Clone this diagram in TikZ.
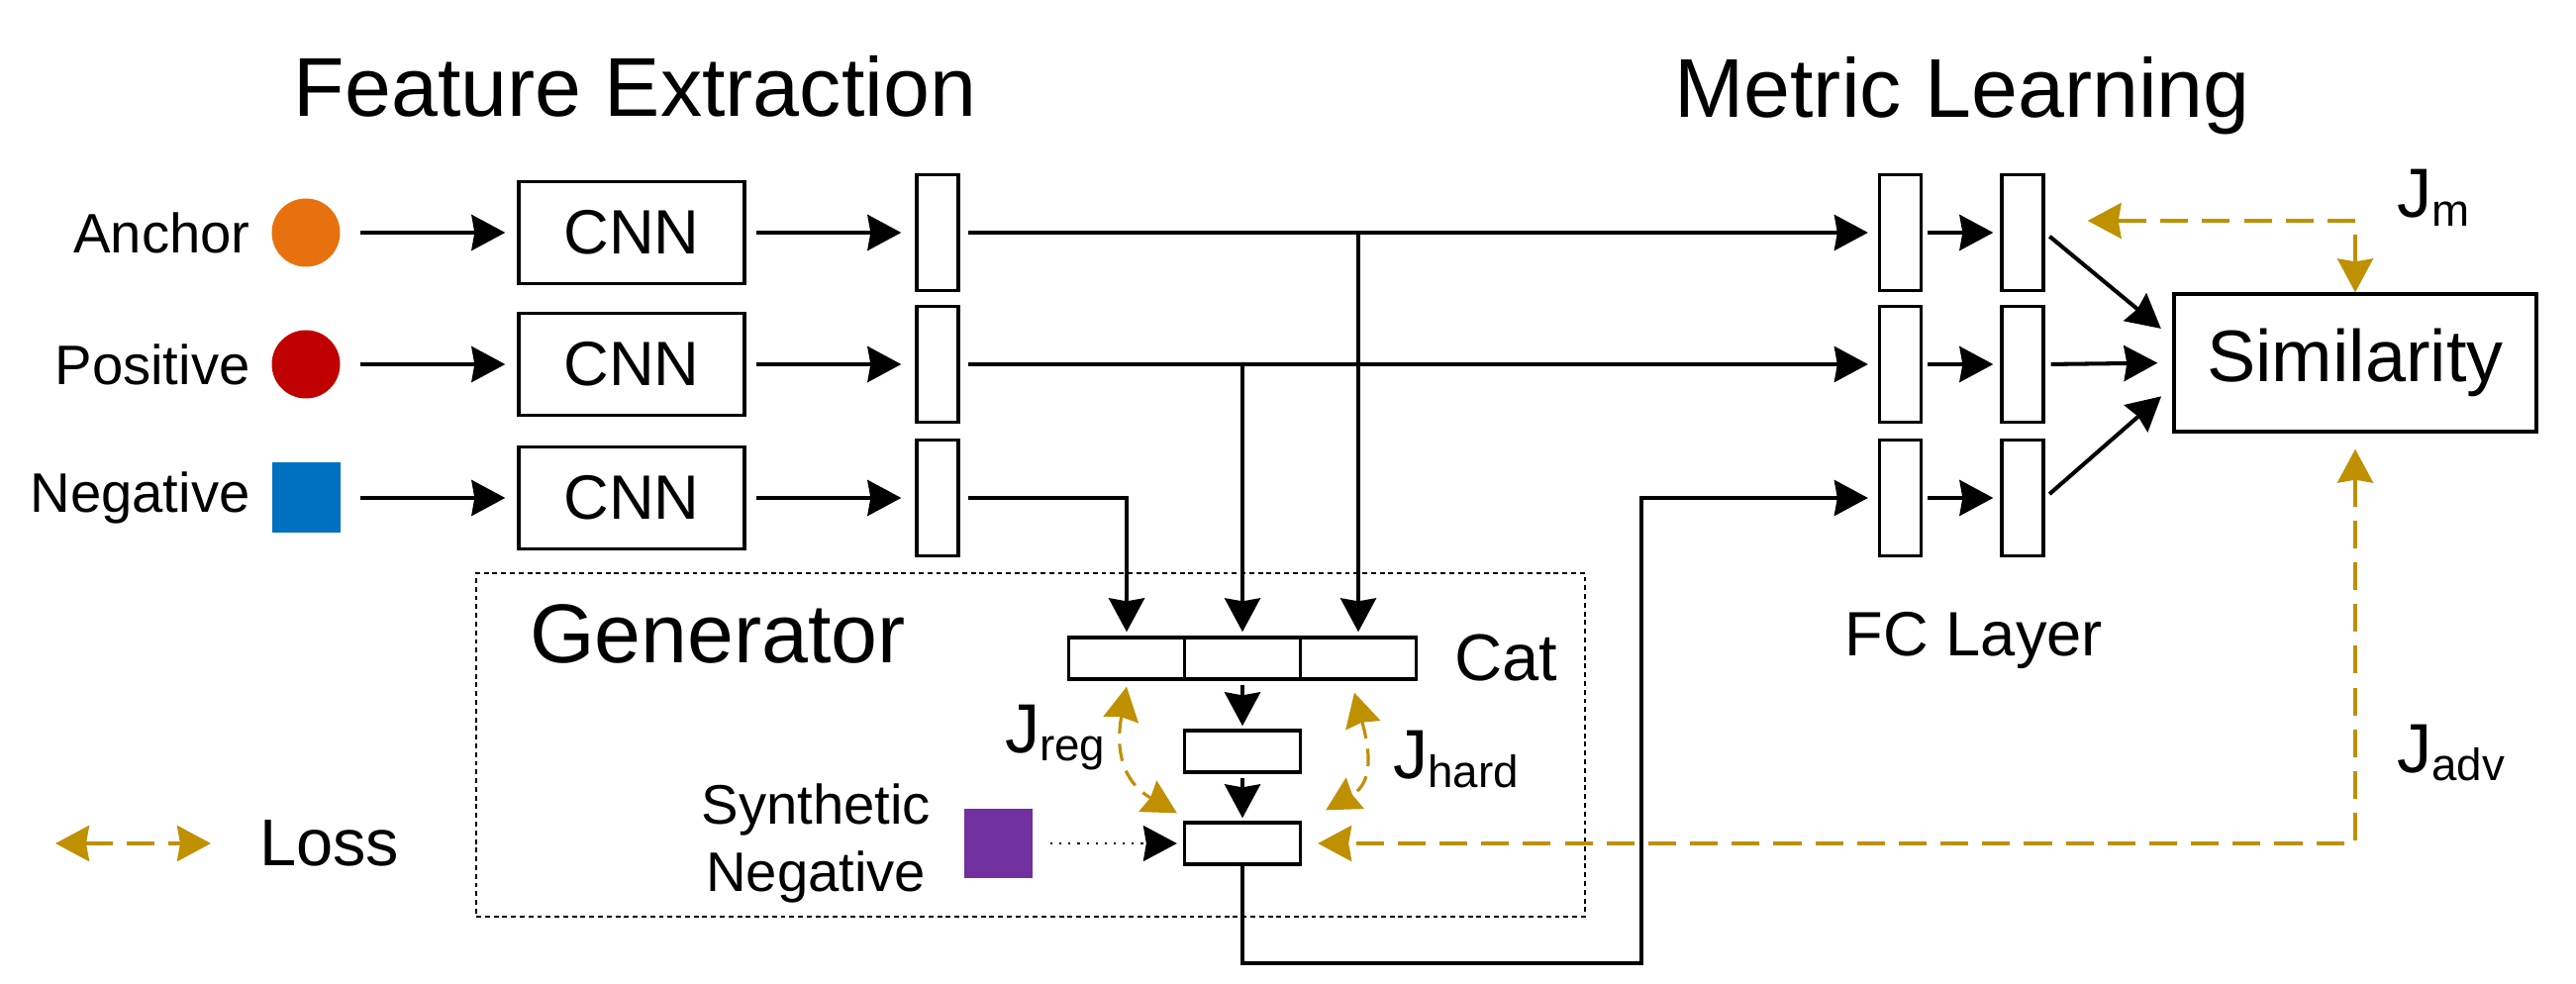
\documentclass[tikz,border=0pt]{standalone}
\usepackage{fontspec}
\setmainfont{Liberation Sans}
\usetikzlibrary{positioning,arrows.meta,calc}
\definecolor{anc}{HTML}{E8710F}
\definecolor{posc}{HTML}{C00000}
\definecolor{negc}{HTML}{0070C0}
\definecolor{synth}{HTML}{7030A0}
\definecolor{lossgold}{HTML}{BF9000}
\newcommand{\jsub}[1]{J\raisebox{-2.5pt}{\fontsize{13}{15}\selectfont #1}}

\begin{document}
\begin{tikzpicture}[
  font=\fontsize{16}{19}\selectfont, line width=1.15pt,
  >={Stealth[length=3.4mm,width=3.6mm,inset=0.3mm]},
  title/.style={font=\fontsize{24}{28}\selectfont},
  lab/.style={inner sep=0pt},
  cnnbox/.style={draw, line width=0.95pt, minimum width=22.8mm, minimum height=10.3mm,
                 inner sep=0pt, font=\fontsize{18}{21}\selectfont},
  vec/.style={draw, line width=0.95pt, minimum width=4.2mm, minimum height=11.7mm, inner sep=0pt},
  cell/.style={draw, line width=0.95pt, minimum width=11.7mm, minimum height=4.2mm, inner sep=0pt},
  flow/.style={->, shorten <=1mm, shorten >=1.2mm},
  lossln/.style={lossgold, line width=1.1pt, dash pattern=on 8pt off 4pt, <->},
  jlab/.style={font=\fontsize{20}{22}\selectfont, anchor=base west, inner sep=0pt}]

\useasboundingbox (0,0) rectangle (26.02,-9.94);

\node [title, anchor=base] at (6.415,-1.18) {Feature Extraction};
\node [title, anchor=base] at (19.82,-1.19) {Metric Learning};

\node (in1) [circle, fill=anc, minimum size=6.9mm, inner sep=0pt] at (3.09,-2.35) {};
\node (in2) [circle, fill=posc, minimum size=6.9mm, inner sep=0pt] at (3.09,-3.68) {};
\node (in3) [fill=negc, minimum width=6.9mm, minimum height=7.1mm, inner sep=0pt] at (3.09,-5.03) {};
\node [lab, left=1.8mm of in1] {Anchor};
\node [lab, left=1.8mm of in2] {Positive};
\node [lab, left=1.8mm of in3] {Negative};

\foreach \r/\y in {1/-2.35, 2/-3.68, 3/-5.03} {
  \node (cnn\r) [cnnbox] at (6.38,\y) {CNN};
  \node (fe\r) [vec] at (9.47,\y) {};
  \node (fca\r) [vec] at (19.195,\y) {};
  \node (fcb\r) [vec] at (20.43,\y) {};
  \draw[flow, shorten <=1.8mm] (in\r) -- (cnn\r);
  \draw[flow, shorten >=1.4mm] (cnn\r) -- (fe\r);
  \draw[flow, shorten <=0.5mm, shorten >=0.7mm] (fca\r) -- (fcb\r);
}
\node [anchor=base, font=\fontsize{18}{21}\selectfont] at (19.94,-6.63) {FC Layer};

\node (sim) [cnnbox, minimum width=36.6mm, minimum height=13.9mm,
  font=\fontsize{21}{24}\selectfont] at (23.79,-3.665) {Similarity};

\node (gen) [draw, line width=0.7pt, dash pattern=on 1.4pt off 1.1pt, minimum width=112mm,
  minimum height=34.7mm, inner sep=0pt] at (10.41,-7.525) {};
\node [title, anchor=base west, inner sep=0pt] at (5.33,-6.70) {Generator};

\foreach \i/\x in {1/11.38, 2/12.55, 3/13.72} \node (cat\i) [cell] at (\x,-6.65) {};
\node [lab, right=3.5mm of cat3, font=\fontsize{19}{22}\selectfont] {Cat};
\node (mid) [cell] at (12.55,-7.59) {};
\node (bot) [cell] at (12.55,-8.52) {};

\node (syn) [fill=synth, minimum width=6.9mm, minimum height=7mm, inner sep=0pt] at (10.085,-8.52) {};
\node [lab, left=3mm of syn, align=center, font=\fontsize{16}{19.3}\selectfont] {Synthetic\\Negative};

\draw[flow, shorten <=0.8mm, shorten >=1mm] (fe1) -- (fca1);
\draw[flow, shorten <=0.8mm, shorten >=1mm] (fe2) -- (fca2);
\draw[->, line width=1pt, shorten >=0.4mm] (fe1.east -| cat3.north) -- (cat3.north);
\draw[->, line width=1pt, shorten >=0.4mm] (fe2.east -| cat2.north) -- (cat2.north);
\draw[flow, shorten <=0.8mm, shorten >=0.4mm] (fe3) -| (cat1.north);
\draw[flow, shorten <=0.4mm, shorten >=0.3mm] (cat2) -- (mid);
\draw[flow, shorten <=0.4mm, shorten >=0.3mm] (mid) -- (bot);
\draw[->, line width=0.6pt, dotted, shorten <=1.6mm, shorten >=0.6mm] (syn) -- (bot);
\coordinate (low) at (16.58,-9.73);
\draw[->, shorten >=1mm] (bot.south) |- (low) |- (fca3);

\draw[flow, shorten <=0.6mm, shorten >=1.5mm] (fcb1.east) -- ([yshift=2.5mm]sim.west);
\draw[flow, shorten <=0.6mm, shorten >=1.5mm] (fcb2.east) -- (sim.west);
\draw[flow, shorten <=0.6mm, shorten >=1.5mm] (fcb3.east) -- ([yshift=-2.4mm]sim.west);

\draw[lossln, line width=0.9pt] (sim.north) |- ([xshift=4.3mm,yshift=1.2mm]fcb1.east);
\node [jlab] at (24.19,-2.20) {\jsub{m}};
\draw[lossln, shorten <=1.6mm, shorten >=1.6mm] (sim.south) |- (bot.east);
\node [jlab] at (24.19,-7.80) {\jsub{adv}};
\draw[lossln, line width=0.9pt, dash pattern=on 5pt off 3pt] ([yshift=-0.6mm]cat1.south)
  to[out=-100, in=150, looseness=1.2] ([xshift=-0.6mm,yshift=0.8mm]bot.north west);
\node [jlab] at (10.13,-7.60) {\jsub{reg}};
\draw[lossln, line width=0.9pt, dash pattern=on 5pt off 3pt] ([xshift=-0.4mm,yshift=-1.2mm]cat3.south)
  to[out=-75, in=30, looseness=1.2] ([xshift=2.4mm,yshift=1.1mm]bot.north east);
\node [jlab] at (14.05,-7.87) {\jsub{hard}};

\coordinate (lossa) at (0.56,-8.52);
\coordinate (lossb) at (2.13,-8.52);
\draw[lossln] (lossa) -- (lossb);
\node [lab, right=4.7mm of lossb, font=\fontsize{19}{22}\selectfont] {Loss};
\end{tikzpicture}
\end{document}
